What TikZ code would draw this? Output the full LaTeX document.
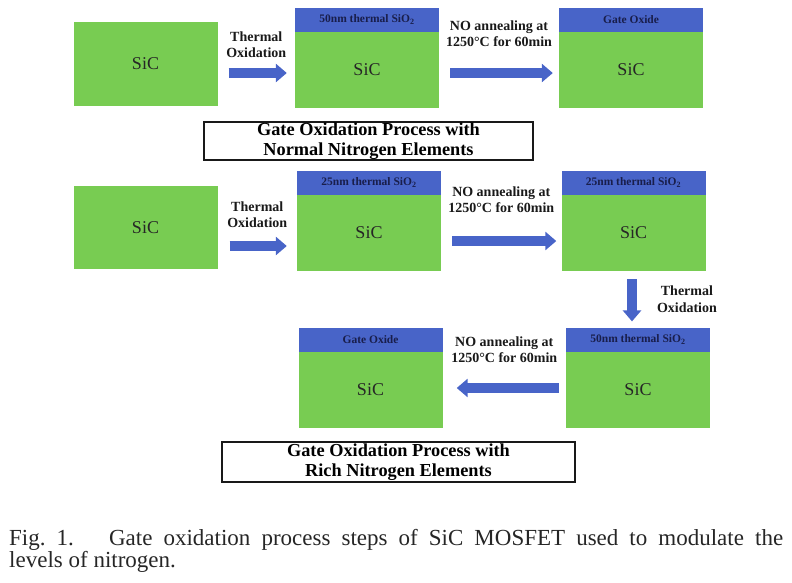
\documentclass[tikz,border=0pt]{standalone}
\usepackage{fontspec}
\setmainfont{Liberation Serif}
\usetikzlibrary{arrows.meta, calc, positioning}
\definecolor{sicgreen}{RGB}{120,204,82}
\definecolor{oxblue}{RGB}{72,100,200}
\definecolor{oxtext}{RGB}{25,30,75}
\newcommand\wafer[3]{
    \node[sicbody,minimum height=76pt] (#1)    at (#2)          {SiC};
    \node[oxide]                       (#1 ox) [above=0pt of #1] {#3};
}
\tikzstyle{sicbody}   = [rectangle,fill=sicgreen,minimum width=144pt,inner sep=0pt,text=black!85,font=\fontsize{18}{20}\selectfont]
\tikzstyle{oxide}     = [rectangle,fill=oxblue,minimum width=144pt,minimum height=24pt,inner sep=0pt,text=oxtext,font=\bfseries\fontsize{11.5}{12}\selectfont]
\tikzstyle{flow}      = [draw=oxblue,line width=10pt,-{Triangle[width=18pt,length=11pt]}]
\tikzstyle{steplabel} = [align=center,inner sep=0pt,text=black!90,font=\bfseries\fontsize{14}{16.5}\selectfont]
\tikzstyle{titlebox}  = [rectangle,draw=black!90,line width=2.5pt,inner sep=0pt,align=center,font=\bfseries\fontsize{18.3}{20}\selectfont]

\begin{document}
\begin{tikzpicture}[x=1pt,y=-1pt]
        \useasboundingbox (0,0) rectangle (792,582);

        % normal nitrogen
        \node[sicbody,minimum height=84pt] (sic 1) at (145.5,64) {SiC};
        \wafer{sic 2}{367,70}{50nm thermal SiO\textsubscript{2}}
        \wafer{sic 3}{631,70}{Gate Oxide}
        \node[titlebox,minimum width=329pt,minimum height=38pt] (title 1) at (368.5,141) {Gate Oxidation Process with\\ Normal Nitrogen Elements};

        % rich nitrogen
        \node[sicbody,minimum height=83pt] (sic 4) at (145.5,227.5) {SiC};
        \wafer{sic 5}{369,233}{25nm thermal SiO\textsubscript{2}}
        \wafer{sic 6}{633.5,233}{25nm thermal SiO\textsubscript{2}}
        \wafer{sic 7}{638,390}{50nm thermal SiO\textsubscript{2}}
        \wafer{sic 8}{370.5,390}{Gate Oxide}
        \node[titlebox,minimum width=353pt,minimum height=40pt] (title 2) at (398.5,462) {Gate Oxidation Process with\\ Rich Nitrogen Elements};

        \coordinate (row 1)  at (0,73);
        \coordinate (row 2a) at (0,246);
        \coordinate (row 2b) at (0,241);
        \coordinate (row 3)  at (0,388);
        \coordinate (col)    at (632,0);

        \draw[flow,shorten <=11pt,shorten >=8pt]  (sic 1.east |- row 1)  -- node[steplabel,above=10pt] {Thermal\\Oxidation} (sic 2.west |- row 1);
        \draw[flow,shorten <=11pt,shorten >=6pt]  (sic 2.east |- row 1)  -- node[steplabel,above=21pt] {NO annealing at\\1250°C for 60min} (sic 3.west |- row 1);
        \draw[flow,shorten <=12pt,shorten >=10pt] (sic 4.east |- row 2a) -- node[steplabel,above=13pt] {Thermal\\Oxidation} (sic 5.west |- row 2a);
        \draw[flow,shorten <=11pt,shorten >=5pt]  (sic 5.east |- row 2b) -- node[steplabel,above=23pt] {NO annealing at\\1250°C for 60min} (sic 6.west |- row 2b);
        \draw[flow,shorten <=8pt,shorten >=6pt]   (sic 6.south -| col)   -- node[steplabel,right=20pt] {Thermal\\Oxidation} (sic 7 ox.north -| col);
        \draw[flow,shorten <=7pt,shorten >=14pt]  (sic 7.west |- row 3)  -- node[steplabel,above=20pt] {NO annealing at\\1250°C for 60min} (sic 8.east |- row 3);

        \node[anchor=base west,inner sep=0pt,text=black!85] (caption) at (9,545) {\parbox[t]{774pt}{\fontsize{23}{20.5}\selectfont Fig.~1.\hspace{0.5em} Gate oxidation process steps of SiC MOSFET used to modulate the\linebreak levels of nitrogen.}};
    \end{tikzpicture}
\end{document}
